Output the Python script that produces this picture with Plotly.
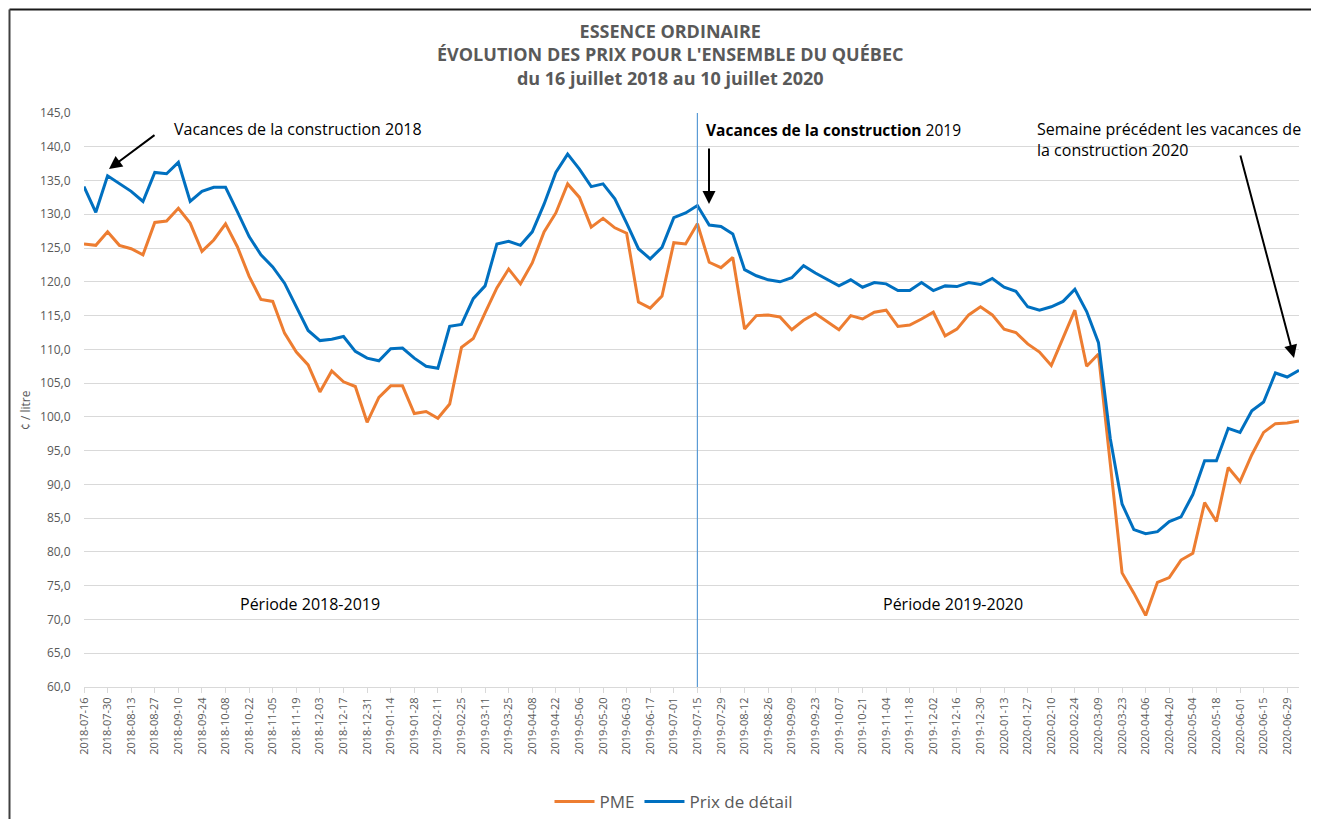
import pandas as pd
import plotly.graph_objects as go

# ---- data ----
weeks = [d.strftime("%Y-%m-%d") for d in pd.date_range("2018-07-16", periods=104, freq="7D")]

prix_detail = [
    134.1, 130.3, 135.7, 134.5, 133.4, 131.9, 136.2, 136.0, 137.7, 131.9,
    133.4, 134.0, 134.0, 130.4, 126.7, 124.0, 122.2, 119.8, 116.3, 112.8,
    111.3, 111.5, 111.9, 109.7, 108.7, 108.3, 110.1, 110.2, 108.7, 107.5,
    107.2, 113.4, 113.7, 117.5, 119.4, 125.6, 126.0, 125.4, 127.4, 131.5,
    136.2, 138.9, 136.7, 134.1, 134.5, 132.3, 128.7, 124.9, 123.4, 125.1,
    129.5, 130.2, 131.3, 128.4, 128.2, 127.1, 121.8, 120.9, 120.3, 120.0,
    120.6, 122.4, 121.3, 120.4, 119.4, 120.3, 119.2, 119.9, 119.7, 118.7,
    118.7, 119.9, 118.7, 119.4, 119.3, 119.9, 119.6, 120.5, 119.2, 118.6,
    116.3, 115.8, 116.3, 117.1, 118.9, 115.6, 111.0, 96.8, 87.1, 83.3,
    82.7, 83.0, 84.5, 85.2, 88.5, 93.5, 93.5, 98.3, 97.7, 100.9,
    102.2, 106.5, 105.9, 106.9,
]

pme = [
    125.6, 125.4, 127.4, 125.4, 124.9, 124.0, 128.8, 129.0, 130.9, 128.7,
    124.5, 126.2, 128.6, 125.2, 120.8, 117.4, 117.1, 112.4, 109.6, 107.7,
    103.7, 106.8, 105.2, 104.5, 99.2, 102.9, 104.6, 104.6, 100.5, 100.8,
    99.8, 101.9, 110.3, 111.6, 115.4, 119.1, 121.9, 119.7, 122.8, 127.4,
    130.2, 134.5, 132.5, 128.1, 129.4, 128.0, 127.2, 117.0, 116.1, 117.9,
    125.8, 125.6, 128.6, 122.9, 122.1, 123.6, 113.0, 115.0, 115.1, 114.8,
    112.9, 114.3, 115.3, 114.1, 112.9, 115.0, 114.5, 115.5, 115.8, 113.4,
    113.6, 114.5, 115.5, 112.0, 113.0, 115.1, 116.3, 115.1, 113.0, 112.5,
    110.8, 109.6, 107.6, 111.7, 115.8, 107.5, 109.3, 93.1, 76.9, 73.9,
    70.6, 75.5, 76.2, 78.8, 79.8, 87.3, 84.5, 92.5, 90.4, 94.4,
    97.7, 99.0, 99.1, 99.4,
]

tick_labels = [
    "2018-07-16", "2018-07-30", "2018-08-13", "2018-08-27", "2018-09-10", "2018-09-24",
    "2018-10-08", "2018-10-22", "2018-11-05", "2018-11-19", "2018-12-03", "2018-12-17",
    "2018-12-31", "2019-01-14", "2019-01-28", "2019-02-11", "2019-02-25", "2019-03-11",
    "2019-03-25", "2019-04-08", "2019-04-22", "2019-05-06", "2019-05-20", "2019-06-03",
    "2019-06-17", "2019-07-01", "2019-07-15", "2019-07-29", "2019-08-12", "2019-08-26",
    "2019-09-09", "2019-09-23", "2019-10-07", "2019-10-21", "2019-11-04", "2019-11-18",
    "2019-12-02", "2019-12-16", "2019-12-30", "2020-01-13", "2020-01-27", "2020-02-10",
    "2020-02-24", "2020-03-09", "2020-03-23", "2020-04-06", "2020-04-20", "2020-05-04",
    "2020-05-18", "2020-06-01", "2020-06-15", "2020-06-29",
]

divider_week = "2019-07-15"

# ---- layout helpers: page pixels -> paper coords ----
OFF = 8                      # page body margin
PAGE_W, PAGE_H = 1319, 819
W, H = PAGE_W - OFF, PAGE_H - OFF
L, R, T, B = 84, 1299, 113, 687   # plot area in page pixels
def px(xp):
    return (xp - L) / (R - L)
def py(yp):
    return (B - yp) / (B - T)

FONT = "Open Sans"
GRAY = "#595959"
ORANGE = "#ED7D31"
BLUE = "#0070C0"

fig = go.Figure()
fig.add_trace(go.Scatter(x=weeks, y=pme, mode="lines", name="PME",
                         line=dict(color=ORANGE, width=3)))
fig.add_trace(go.Scatter(x=weeks, y=prix_detail, mode="lines", name="Prix de détail",
                         line=dict(color=BLUE, width=3)))

fig.add_shape(type="line", xref="x", yref="paper", x0=divider_week, x1=divider_week,
              y0=0, y1=1, line=dict(color="#5B9BD5", width=1.2))

# frame (top and left border of the chart)
fig.add_shape(type="line", xref="paper", yref="paper", x0=px(9.5), x1=px(PAGE_W + 5),
              y0=py(9.5), y1=py(9.5), line=dict(color="#1a1a1a", width=2))
fig.add_shape(type="line", xref="paper", yref="paper", x0=px(9.5), x1=px(9.5),
              y0=py(9.5), y1=py(PAGE_H + 5), line=dict(color="#404040", width=2))

ann = []
title_text = "<br>".join("<b>%s</b>" % t for t in [
    "ESSENCE ORDINAIRE", "ÉVOLUTION DES PRIX POUR L'ENSEMBLE DU QUÉBEC",
    "du 16 juillet 2018 au 10 juillet 2020"])
ann.append(dict(text=title_text, x=px(670), y=py(55), xref="paper", yref="paper",
                showarrow=False, xanchor="center", yanchor="middle", align="center",
                font=dict(family=FONT, size=18, color=GRAY)))

ann.append(dict(text="Vacances de la construction 2018", x=px(172), y=py(129), xref="paper",
                yref="paper", showarrow=False, xanchor="left", yanchor="middle",
                font=dict(family=FONT, size=16, color="black")))
ann.append(dict(text="<b>Vacances de la construction</b> 2019", x=px(704), y=py(130), xref="paper",
                yref="paper", showarrow=False, xanchor="left", yanchor="middle",
                font=dict(family=FONT, size=15.5, color="black")))
ann.append(dict(text="Semaine précédent les vacances de<br>la construction 2020", x=px(1035),
                y=py(140), xref="paper", yref="paper", showarrow=False, xanchor="left",
                yanchor="middle", align="left",
                font=dict(family=FONT, size=16, color="black")))
ann.append(dict(text="Période 2018-2019", x=px(310), y=py(604), xref="paper", yref="paper",
                showarrow=False, xanchor="center", yanchor="middle",
                font=dict(family=FONT, size=16, color="black")))
ann.append(dict(text="Période 2019-2020", x=px(953), y=py(604), xref="paper", yref="paper",
                showarrow=False, xanchor="center", yanchor="middle",
                font=dict(family=FONT, size=16, color="black")))
ann.append(dict(text="¢ / litre", x=px(25), y=py(410), xref="paper", yref="paper",
                showarrow=False, textangle=-90, xanchor="center", yanchor="middle",
                font=dict(family=FONT, size=12, color=GRAY)))

# arrows: (tail_px, tip_px) in page pixels
arrows = [((156, 134), (109, 169)), ((709, 147), (709, 204)), ((1240, 154), (1294, 358))]
for (tx, ty), (hx, hy) in arrows:
    ann.append(dict(text="", x=px(hx), y=py(hy), xref="paper", yref="paper",
                    ax=tx - hx, ay=ty - hy, axref="pixel", ayref="pixel",
                    showarrow=True, arrowhead=2, arrowsize=1.3, arrowwidth=2,
                    arrowcolor="black"))

fig.update_layout(
    width=W, height=H,
    margin=dict(l=L - OFF, r=W - (R - OFF), t=T - OFF, b=H - (B - OFF)),
    paper_bgcolor="white", plot_bgcolor="white",
    separators=", ",
    font=dict(family=FONT, color=GRAY),
    showlegend=True,
    legend=dict(orientation="h", xref="container", yref="container",
                x=(674 - OFF) / W, y=1 - (802 - OFF) / H, xanchor="center", yanchor="middle",
                font=dict(family=FONT, size=17, color=GRAY), itemwidth=40),
    annotations=ann,
    xaxis=dict(type="category", range=[0, len(weeks) - 1], tickmode="array",
               tickvals=tick_labels, ticktext=tick_labels, tickangle=-90,
               tickfont=dict(family=FONT, size=11, color=GRAY),
               ticks="outside", ticklen=5, tickcolor="#d9d9d9",
               showline=True, linecolor="#d9d9d9", linewidth=1, showgrid=False),
    yaxis=dict(range=[60, 145], dtick=5, tick0=60, tickformat=".1f",
               tickfont=dict(family=FONT, size=12, color=GRAY),
               showgrid=True, gridcolor="#d9d9d9", gridwidth=1, zeroline=False,
               showline=False, ticks="outside", ticklen=10, tickcolor="rgba(0,0,0,0)"),
)

fig.write_html("out.html")
